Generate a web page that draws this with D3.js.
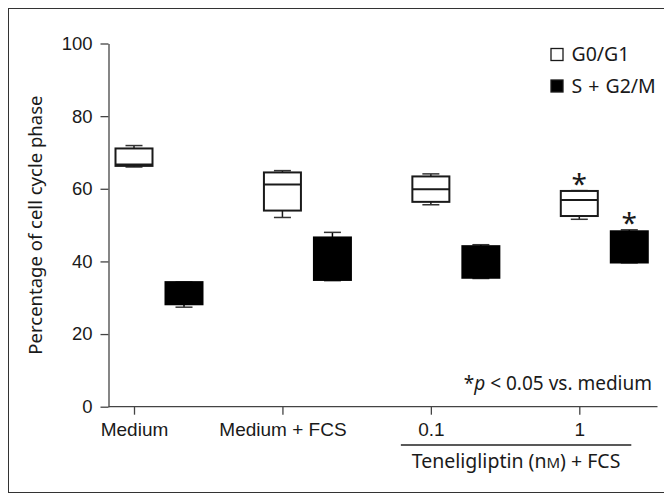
<!DOCTYPE html>
<html>
<head>
<meta charset="UTF-8">
<title>Cell cycle phase</title>
<script src="https://cdn.jsdelivr.net/npm/d3@7"></script>
<style>
  body { margin: 0; background: #fff; }
  svg { display: block; font-family: "Noto Sans", "Open Sans", sans-serif; }
  .axis path, .axis line { stroke: #444; stroke-width: 1.3; }
  .axis text { font-size: 18.5px; fill: #1a1a1a; }
  .xaxis text { font-size: 19px; }
</style>
</head>
<body>
<script>
// categories on the x axis
var categories = ["Medium", "Medium + FCS", "0.1", "1"];

// box values per category: [min, q1, median, q3, max]
var g0g1 = [
  [66.0, 66.3, 66.7, 71.1, 71.9],
  [52.1, 54.0, 61.2, 64.5, 65.0],
  [55.6, 56.4, 59.9, 63.4, 64.1],
  [51.6, 52.5, 56.9, 59.4, 59.5]
];
var sg2m = [
  [27.4, 28.2, 30.5, 34.3, 34.3],
  [34.7, 34.9, 40.0, 46.6, 48.0],
  [35.3, 35.5, 40.0, 44.2, 44.6],
  [39.6, 39.7, 44.0, 48.3, 48.7]
];
// p < 0.05 vs. medium
var g0g1Sig = [false, false, false, true];
var sg2mSig = [false, false, false, true];

var yTicks = [0, 20, 40, 60, 80, 100];

var W = 664, H = 494;
var svg = d3.select("body").append("svg")
    .attr("width", W)
    .attr("height", H);

// outer frame (right side runs off the picture)
svg.append("rect")
    .attr("x", 8.5).attr("y", 8.5)
    .attr("width", 700).attr("height", 484)
    .attr("fill", "none")
    .attr("stroke", "#333")
    .attr("stroke-width", 1);

var x = d3.scalePoint().domain(categories).range([134, 579.3]);
var y = d3.scaleLinear().domain([0, 100]).range([406.7, 43.5]);

var axisLeftX = 108.5, axisRightX = 657.5;
var boxW = 37, capW = 17, offset = 50;

// y axis
svg.append("g")
    .attr("class", "axis")
    .attr("transform", "translate(" + axisLeftX + ",0)")
    .call(d3.axisLeft(y).tickValues(yTicks).tickSize(8).tickSizeOuter(0).tickPadding(8));

// x axis
var xa = svg.append("g")
    .attr("class", "axis xaxis")
    .attr("transform", "translate(0," + y(0) + ")")
    .call(d3.axisBottom(x).tickSize(8).tickSizeOuter(0).tickPadding(8));
xa.select(".domain").remove();
xa.append("line")
    .attr("x1", axisLeftX).attr("x2", axisRightX)
    .attr("stroke", "#444").attr("stroke-width", 1.3);

// y title
svg.append("text")
    .attr("transform", "translate(36," + (y(0) + y(100)) / 2 + ") rotate(-90)")
    .attr("text-anchor", "middle")
    .attr("dy", "0.35em")
    .style("font-size", "18.5px")
    .attr("fill", "#1a1a1a")
    .text("Percentage of cell cycle phase");

// group line under the teneligliptin doses
svg.append("line")
    .attr("x1", x("0.1") - 30).attr("x2", x("1") + 52)
    .attr("y1", 445).attr("y2", 445)
    .attr("stroke", "#222").attr("stroke-width", 1.3);

var tl = svg.append("text")
    .attr("x", (x("0.1") - 30 + x("1") + 52) / 2)
    .attr("y", 468)
    .attr("text-anchor", "middle")
    .style("font-size", "19.5px")
    .attr("fill", "#1a1a1a");
tl.append("tspan").text("Teneligliptin (n");
tl.append("tspan").style("font-size", "15px").text("M");
tl.append("tspan").text(") + FCS");

function drawBoxes(data, sig, dx, fill, ink) {
  var g = svg.append("g");
  data.forEach(function(d, i) {
    var cx = x(categories[i]) + dx;
    // whiskers
    g.append("line").attr("x1", cx).attr("x2", cx)
        .attr("y1", y(d[4])).attr("y2", y(d[3]))
        .attr("stroke", ink).attr("stroke-width", 1.5);
    g.append("line").attr("x1", cx).attr("x2", cx)
        .attr("y1", y(d[1])).attr("y2", y(d[0]))
        .attr("stroke", ink).attr("stroke-width", 1.5);
    g.append("line").attr("x1", cx - capW / 2).attr("x2", cx + capW / 2)
        .attr("y1", y(d[4])).attr("y2", y(d[4]))
        .attr("stroke", "#333").attr("stroke-width", 1.5);
    g.append("line").attr("x1", cx - capW / 2).attr("x2", cx + capW / 2)
        .attr("y1", y(d[0])).attr("y2", y(d[0]))
        .attr("stroke", "#333").attr("stroke-width", 1.5);
    // box
    g.append("rect")
        .attr("x", cx - boxW / 2)
        .attr("y", y(d[3]))
        .attr("width", boxW)
        .attr("height", y(d[1]) - y(d[3]))
        .attr("fill", fill)
        .attr("stroke", ink)
        .attr("stroke-width", 2);
    g.append("line").attr("x1", cx - boxW / 2).attr("x2", cx + boxW / 2)
        .attr("y1", y(d[2])).attr("y2", y(d[2]))
        .attr("stroke", ink).attr("stroke-width", 2);
    if (sig[i]) {
      g.append("text")
          .attr("x", cx)
          .attr("y", y(d[4]) + 3)
          .attr("text-anchor", "middle")
          .style("font-size", "28px")
          .attr("fill", "#1a1a1a")
          .text("*");
    }
  });
}
drawBoxes(g0g1, g0g1Sig, 0, "#fff", "#1a1a1a");
drawBoxes(sg2m, sg2mSig, offset, "#000", "#000");

// legend
var legend = [["G0/G1", "#fff", 48.5], ["S + G2/M", "#000", 80]];
legend.forEach(function(l) {
  svg.append("rect")
      .attr("x", 551).attr("y", l[2])
      .attr("width", 12).attr("height", 12)
      .attr("fill", l[1])
      .attr("stroke", "#1a1a1a").attr("stroke-width", 1.3);
  svg.append("text")
      .attr("x", 571.5).attr("y", l[2] + 6)
      .attr("dy", "0.35em")
      .style("font-size", "19.5px")
      .style("word-spacing", "1px")
      .attr("fill", "#1a1a1a")
      .text(l[0]);
});

// significance note
var note = svg.append("text")
    .attr("x", 652).attr("y", 390)
    .attr("text-anchor", "end")
    .style("font-size", "19px")
    .attr("fill", "#1a1a1a");
note.append("tspan").text("*");
note.append("tspan").style("font-style", "italic").text("p");
note.append("tspan").text(" < 0.05 vs. medium");
</script>
</body>
</html>
